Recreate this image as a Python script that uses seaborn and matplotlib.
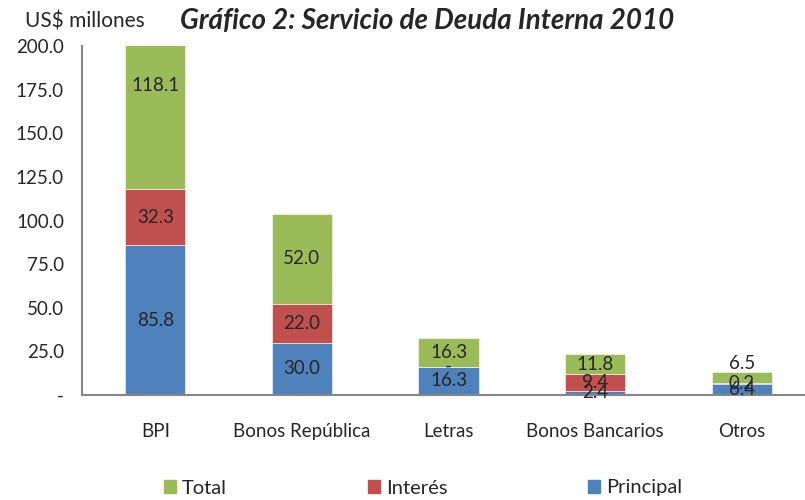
import numpy as np
import pandas as pd
import seaborn as sns
import matplotlib.pyplot as plt
from matplotlib.patches import Patch

# datos
categorias = ['BPI', 'Bonos República', 'Letras', 'Bonos Bancarios', 'Otros']
principal = [85.8, 30.0, 16.3, 2.4, 6.4]
interes = [32.3, 22.0, 0.0, 9.4, 0.2]
total = [118.1, 52.0, 16.3, 11.8, 6.5]
yticks = [0, 25, 50, 75, 100, 125, 150, 175, 200]

c_total = '#9BBB59'
c_interes = '#C0504D'
c_principal = '#4F81BD'

sns.set_style('white')
plt.rcParams['font.family'] = ['Lato', 'DejaVu Sans']

fig = plt.figure(figsize=(8.05, 5.0), dpi=100)
ax = fig.add_axes([82 / 805, 105 / 500, 733 / 805, 349 / 500])

df = pd.DataFrame({'cat': categorias, 'principal': principal,
                   'interes': interes, 'total': total})
df['b2'] = df['principal']
df['b3'] = df['principal'] + df['interes']

w = 0.41
sns.barplot(data=df, x='cat', y='principal', color=c_principal, width=w,
            saturation=1, ax=ax, edgecolor='white', linewidth=0.4)
sns.barplot(data=df, x='cat', y='interes', bottom=df['b2'], color=c_interes,
            width=w, saturation=1, ax=ax, edgecolor='white', linewidth=0.4)
sns.barplot(data=df, x='cat', y='total', bottom=df['b3'], color=c_total,
            width=w, saturation=1, ax=ax, edgecolor='white', linewidth=0.4)

# etiquetas de datos
fs = 13.5
fmt = lambda v: '-' if v == 0 else f'{v:.1f}'
for i in range(len(categorias)):
    ax.text(i, principal[i] / 2, fmt(principal[i]), ha='center', va='center', fontsize=fs)
    ax.text(i, principal[i] + interes[i] / 2, fmt(interes[i]), ha='center', va='center', fontsize=fs)
    top = principal[i] + interes[i]
    if total[i] < 8:
        ax.text(i, top + total[i], fmt(total[i]), ha='center', va='bottom', fontsize=fs)
    else:
        ax.text(i, top + total[i] / 2, fmt(total[i]), ha='center', va='center', fontsize=fs)

ax.set_ylim(0, 200)
ax.set_xlim(-0.5, 4.5)
ax.set_yticks(yticks)
ax.set_yticklabels(['-'] + [f'{v:.1f}' for v in yticks[1:]], fontsize=13.5)
ax.set_xticks(range(len(categorias)))
ax.set_xticklabels(categorias, fontsize=13.5)
ax.set_xticks(np.arange(-0.5, 5, 1), minor=True)
ax.tick_params(axis='x', which='major', length=0, pad=20)
ax.tick_params(axis='x', which='minor', length=6, color='#868686', width=1.2, direction='out')
ax.tick_params(axis='y', length=5, color='#868686', width=1.2, direction='out', pad=8)
ax.set_xlabel('')
ax.set_ylabel('')
for s in ['top', 'right']:
    ax.spines[s].set_visible(False)
for s in ['left', 'bottom']:
    ax.spines[s].set_color('#868686')
    ax.spines[s].set_linewidth(1.5)

fig.text(25 / 805, 1 - 21 / 500, 'US$ millones', fontsize=15, va='center')
fig.text(427 / 805, 1 - 21 / 500, 'Gráfico 2: Servicio de Deuda Interna 2010',
         fontsize=20, fontweight='bold', fontstyle='italic', ha='center', va='center')

handles = [Patch(color=c_total, label='Total'),
           Patch(color=c_interes, label='Interés'),
           Patch(color=c_principal, label='Principal')]
fig.legend(handles=handles, loc='center', bbox_to_anchor=(423 / 805, 1 - 488 / 500),
           ncol=3, frameon=False, fontsize=14.5, handlelength=0.6, handleheight=0.6,
           handletextpad=0.3, columnspacing=7)

fig.savefig('out.png', dpi=100)
